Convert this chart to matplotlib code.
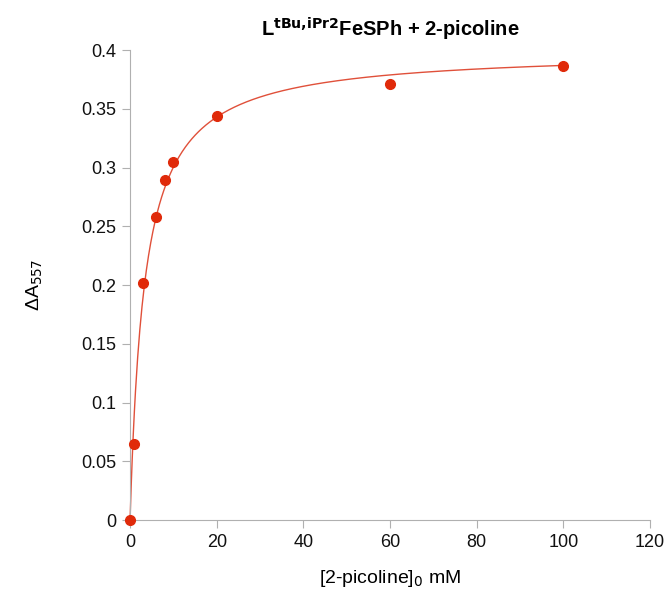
import numpy as np
import matplotlib.pyplot as plt

plt.rcParams['font.family'] = ['Liberation Sans', 'DejaVu Sans']

conc = [0, 1, 3, 6, 8, 10, 20, 60, 100]
dA = [0.0, 0.065, 0.202, 0.258, 0.289, 0.305, 0.344, 0.371, 0.386]

# binding hyperbola fit: dA = Amax*x/(Kd+x), grid search on Kd
x = np.array(conc, dtype=float)
y = np.array(dA)
best = None
for kd in np.linspace(0.5, 20, 2000):
    f = x / (kd + x)
    amax = (f @ y) / (f @ f)
    err = np.sum((y - amax * f) ** 2)
    if best is None or err < best[0]:
        best = (err, kd, amax)
_, kd, amax = best
xf = np.linspace(0, 100, 400)
yf = amax * xf / (kd + xf)

fig = plt.figure(figsize=(6.67, 5.9), dpi=100)
ax = fig.add_axes([0.195, 0.1186, 0.7795, 0.7966])

ax.plot(xf, yf, color='#e0503a', lw=1.0, clip_on=False)
ax.plot(conc, dA, 'o', color='#e02a0a', ms=7, clip_on=False, zorder=3)

ax.set_xlim(0, 120)
ax.set_ylim(0, 0.4)
ax.set_xticks(np.arange(0, 121, 20))
ax.set_yticks(np.arange(0, 0.41, 0.05))
ax.set_yticklabels(['0', '0.05', '0.1', '0.15', '0.2', '0.25', '0.3', '0.35', '0.4'])

for s in ['top', 'right']:
    ax.spines[s].set_visible(False)
for s in ['left', 'bottom']:
    ax.spines[s].set_color('#b0b0b0')
ax.tick_params(colors='#b0b0b0', labelcolor='#111111', labelsize=13, length=6, pad=4)

ax.set_xlabel('[2-picoline]$_0$ mM', fontsize=14, labelpad=12)
ax.set_ylabel('ΔA$_{557}$', fontsize=14, labelpad=26)
ax.set_title('L$^{\\mathbf{tBu{,}iPr2}}$FeSPh + 2-picoline', fontsize=14.5, fontweight='bold', pad=10)

fig.savefig('out.png', dpi=100)
